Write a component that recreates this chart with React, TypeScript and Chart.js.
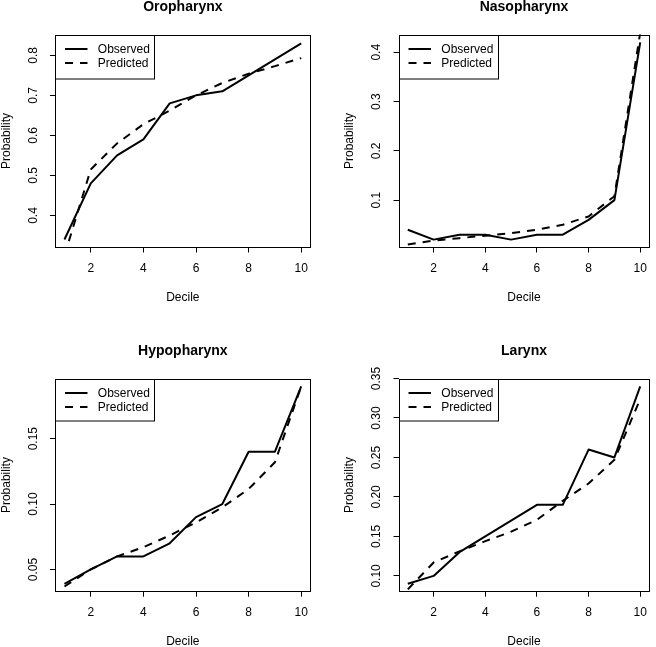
import React, { useEffect, useRef } from 'react';
import { Chart, registerables } from 'chart.js';

Chart.register(...registerables);

// ---------- data ----------
const deciles = [1, 2, 3, 4, 5, 6, 7, 8, 9, 10];
const xTicks = [2, 4, 6, 8, 10];
const seriesLabels = ['Observed', 'Predicted'];

const oroObserved = [0.34, 0.48, 0.55, 0.59, 0.68, 0.70, 0.71, 0.75, 0.79, 0.83];
const oroPredicted = [0.30, 0.515, 0.58, 0.628, 0.662, 0.70, 0.731, 0.754, 0.773, 0.793];
const oroYTicks = [0.4, 0.5, 0.6, 0.7, 0.8];
const oroYLabels = ['0.4', '0.5', '0.6', '0.7', '0.8'];

const nasoObserved = [0.04, 0.02, 0.03, 0.03, 0.02, 0.03, 0.03, 0.06, 0.10, 0.42];
const nasoPredicted = [0.01, 0.018, 0.023, 0.028, 0.033, 0.04, 0.05, 0.067, 0.108, 0.44];
const nasoYTicks = [0.1, 0.2, 0.3, 0.4];
const nasoYLabels = ['0.1', '0.2', '0.3', '0.4'];

const hypoObserved = [0.039, 0.05, 0.06, 0.06, 0.07, 0.09, 0.10, 0.14, 0.14, 0.19];
const hypoPredicted = [0.037, 0.05, 0.06, 0.067, 0.076, 0.086, 0.0975, 0.1115, 0.132, 0.19];
const hypoYTicks = [0.05, 0.10, 0.15];
const hypoYLabels = ['0.05', '0.10', '0.15'];

const larObserved = [0.09, 0.10, 0.13, 0.15, 0.17, 0.19, 0.19, 0.26, 0.25, 0.34];
const larPredicted = [0.083, 0.117, 0.131, 0.144, 0.156, 0.171, 0.195, 0.217, 0.247, 0.324];
const larYTicks = [0.10, 0.15, 0.20, 0.25, 0.30, 0.35];
const larYLabels = ['0.10', '0.15', '0.20', '0.25', '0.30', '0.35'];

// ---------- layout ----------
const FONT = "'Liberation Sans', Arial, Helvetica, sans-serif";

type Spec = {
  title: string;
  observed: number[];
  predicted: number[];
  yMin: number;
  yMax: number;
  yTicks: number[];
  yLabels: string[];
  canvas: { left: number; top: number; width: number; height: number };
  box: { left: number; top: number; right: number; bottom: number };
  legendH: number;
};

const panels: Spec[] = [
  {
    title: 'Oropharynx', observed: oroObserved, predicted: oroPredicted,
    yMin: 0.32, yMax: 0.852, yTicks: oroYTicks, yLabels: oroYLabels,
    canvas: { left: 0, top: 0, width: 328, height: 323 },
    box: { left: 55, top: 34.5, right: 310.7, bottom: 247.5 }, legendH: 43.5,
  },
  {
    title: 'Nasopharynx', observed: nasoObserved, predicted: nasoPredicted,
    yMin: 0.004, yMax: 0.436, yTicks: nasoYTicks, yLabels: nasoYLabels,
    canvas: { left: 328, top: 0, width: 328, height: 323 },
    box: { left: 398.5, top: 34.5, right: 653.3, bottom: 247.5 }, legendH: 43.5,
  },
  {
    title: 'Hypopharynx', observed: hypoObserved, predicted: hypoPredicted,
    yMin: 0.033, yMax: 0.196, yTicks: hypoYTicks, yLabels: hypoYLabels,
    canvas: { left: 0, top: 323, width: 328, height: 324 },
    box: { left: 55, top: 378.5, right: 310.7, bottom: 591.7 }, legendH: 41.5,
  },
  {
    title: 'Larynx', observed: larObserved, predicted: larPredicted,
    yMin: 0.08, yMax: 0.35, yTicks: larYTicks, yLabels: larYLabels,
    canvas: { left: 328, top: 323, width: 328, height: 324 },
    box: { left: 398.5, top: 378.5, right: 653.3, bottom: 591.7 }, legendH: 41.5,
  },
];

function Panel({ spec }: { spec: Spec }) {
  const ref = useRef<HTMLCanvasElement | null>(null);
  const c = spec.canvas;
  const b = spec.box;

  useEffect(() => {
    if (!ref.current) return;
    const meas = document.createElement('canvas').getContext('2d')!;
    meas.font = `12px ${FONT}`;
    const widest = Math.max(...spec.yLabels.map((s) => meas.measureText(s).width));
    const yPad = 16.5 - widest / 2;
    const yAxisW = b.left - c.left;
    const xAxisH = c.top + c.height - b.bottom;
    const xTitlePad = c.top + c.height - (b.bottom + 50) - 7.2;
    const yTitlePad = b.left - 48.5 - c.left - 7.2;

    const frame = {
      id: 'rframe',
      afterDraw(chart: any) {
        const ctx = chart.ctx as CanvasRenderingContext2D;
        const a = chart.chartArea;
        const x1 = Math.round(a.left) + 0.5;
        const y1 = Math.round(a.top) + 0.5;
        const x2 = Math.round(a.right) - 0.5;
        const y2 = Math.round(a.bottom) - 0.5;
        ctx.save();
        ctx.strokeStyle = '#000';
        ctx.lineWidth = 1;
        ctx.setLineDash([]);
        ctx.strokeRect(x1, y1, x2 - x1, y2 - y1);
        // title
        ctx.fillStyle = '#000';
        ctx.font = `bold 14px ${FONT}`;
        ctx.textAlign = 'center';
        ctx.textBaseline = 'middle';
        ctx.fillText(spec.title, (a.left + a.right) / 2, a.top - 27.5);
        // legend
        ctx.strokeRect(x1, y1, 99, spec.legendH);
        ctx.font = `12px ${FONT}`;
        ctx.textAlign = 'left';
        const rows = [14.5, 28.7];
        chart.data.datasets.forEach((ds: any, i: number) => {
          const y = Math.round(a.top + rows[i]);
          ctx.beginPath();
          ctx.lineWidth = ds.borderWidth;
          ctx.setLineDash(ds.borderDash || []);
          ctx.moveTo(a.left + 10, y);
          ctx.lineTo(a.left + 32.5, y);
          ctx.stroke();
          ctx.setLineDash([]);
          ctx.fillText(ds.label, a.left + 42.8, a.top + rows[i] + 0.5);
        });
        ctx.restore();
      },
    };

    const chart = new Chart(ref.current, {
      type: 'line',
      data: {
        datasets: [
          {
            label: seriesLabels[0],
            data: deciles.map((x, i) => ({ x, y: spec.observed[i] })),
            borderColor: '#000', borderWidth: 2, borderDash: [],
            pointRadius: 0, tension: 0, fill: false, clip: 0,
            borderJoinStyle: 'round', borderCapStyle: 'butt',
          },
          {
            label: seriesLabels[1],
            data: deciles.map((x, i) => ({ x, y: spec.predicted[i] })),
            borderColor: '#000', borderWidth: 2, borderDash: [8, 7],
            pointRadius: 0, tension: 0, fill: false, clip: 0,
            borderJoinStyle: 'round', borderCapStyle: 'butt',
          },
        ],
      } as any,
      options: {
        responsive: false,
        animation: false,
        devicePixelRatio: 1,
        events: [],
        layout: {
          padding: { left: 0, top: b.top - c.top, right: c.left + c.width - b.right, bottom: 0 },
        },
        plugins: {
          legend: { display: false },
          tooltip: { enabled: false },
          title: { display: false },
        },
        scales: {
          x: {
            type: 'linear',
            min: 0.64,
            max: 10.36,
            afterBuildTicks: (s: any) => { s.ticks = xTicks.map((v) => ({ value: v })); },
            afterFit: (s: any) => { s.height = xAxisH; },
            ticks: {
              font: { size: 12, family: FONT }, color: '#000', padding: 9,
              minRotation: 0, maxRotation: 0, autoSkip: false,
              callback: (v: any) => String(v),
            },
            grid: { display: true, drawOnChartArea: false, drawTicks: true, tickLength: 5, tickColor: '#000', tickWidth: 1 },
            border: { display: false },
            title: {
              display: true, text: 'Decile', color: '#000',
              font: { size: 12, family: FONT }, padding: { top: 0, bottom: xTitlePad },
            },
          },
          y: {
            type: 'linear',
            min: spec.yMin,
            max: spec.yMax,
            afterBuildTicks: (s: any) => { s.ticks = spec.yTicks.map((v) => ({ value: v })); },
            afterFit: (s: any) => { s.width = yAxisW; },
            ticks: {
              font: { size: 12, family: FONT }, color: '#000', padding: yPad,
              minRotation: 90, maxRotation: 90, crossAlign: 'center', autoSkip: false,
              callback: (v: any) => {
                const idx = spec.yTicks.findIndex((t) => Math.abs(t - v) < 1e-9);
                return idx >= 0 ? spec.yLabels[idx] : '';
              },
            },
            grid: { display: true, drawOnChartArea: false, drawTicks: true, tickLength: 5, tickColor: '#000', tickWidth: 1 },
            border: { display: false },
            title: {
              display: true, text: 'Probability', color: '#000',
              font: { size: 12, family: FONT }, padding: { top: yTitlePad, bottom: 0 },
            },
          },
        },
      } as any,
      plugins: [frame],
    });
    return () => chart.destroy();
  }, []);

  return (
    <canvas
      ref={ref}
      width={c.width}
      height={c.height}
      style={{ position: 'absolute', left: c.left, top: c.top, width: c.width, height: c.height }}
    />
  );
}

export default function App() {
  return (
    <div style={{ position: 'absolute', left: 0, top: 0, width: 656, height: 647, background: '#fff', overflow: 'hidden' }}>
      {panels.map((p) => (
        <Panel key={p.title} spec={p} />
      ))}
    </div>
  );
}
